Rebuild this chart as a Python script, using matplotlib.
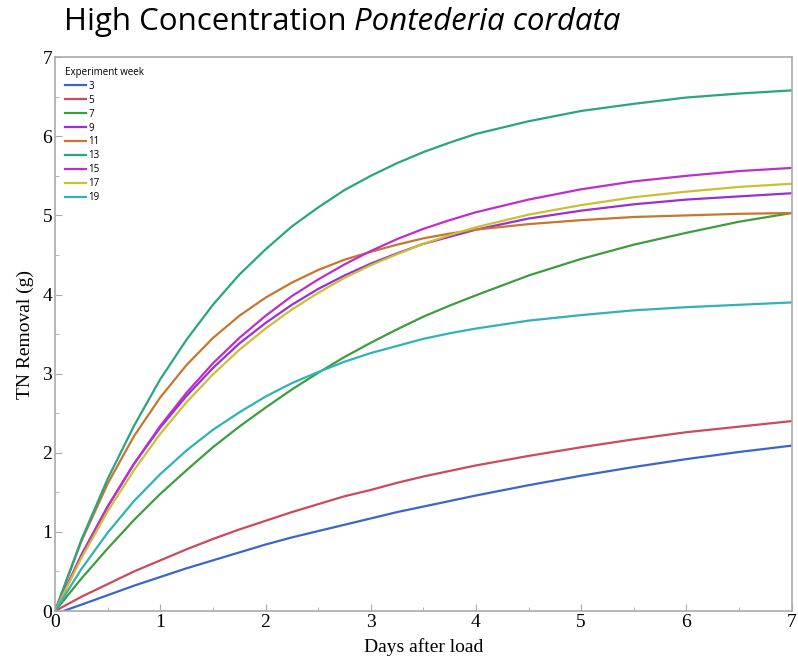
import numpy as np
import matplotlib
matplotlib.use("Agg")
import matplotlib.pyplot as plt
from matplotlib.ticker import MultipleLocator

# Days after load (read at these x positions)
days = [0, 0.25, 0.5, 0.75, 1, 1.25, 1.5, 1.75, 2, 2.25, 2.5, 2.75, 3, 3.25,
        3.5, 3.75, 4, 4.5, 5, 5.5, 6, 6.5, 7]
days_w3 = [0.08] + days[1:]

# TN removal (g) per experiment week
w3 = [0, 0.08, 0.20, 0.32, 0.43, 0.54, 0.64, 0.74, 0.84, 0.93, 1.01, 1.09, 1.17, 1.25,
      1.32, 1.39, 1.46, 1.59, 1.71, 1.82, 1.92, 2.01, 2.09]
w5 = [0, 0.18, 0.34, 0.50, 0.64, 0.78, 0.91, 1.03, 1.14, 1.25, 1.35, 1.45, 1.53, 1.62,
      1.70, 1.77, 1.84, 1.96, 2.07, 2.17, 2.26, 2.33, 2.40]
w7 = [0, 0.41, 0.79, 1.15, 1.48, 1.78, 2.07, 2.33, 2.57, 2.80, 3.01, 3.21, 3.39, 3.56,
      3.72, 3.86, 3.99, 4.24, 4.45, 4.63, 4.78, 4.92, 5.03]
w9 = [0, 0.71, 1.32, 1.86, 2.32, 2.72, 3.07, 3.38, 3.64, 3.87, 4.07, 4.24, 4.39, 4.52,
      4.64, 4.73, 4.82, 4.96, 5.06, 5.14, 5.20, 5.24, 5.28]
w11 = [0, 0.88, 1.61, 2.21, 2.70, 3.11, 3.45, 3.73, 3.96, 4.15, 4.31, 4.44, 4.54, 4.63,
       4.71, 4.77, 4.82, 4.89, 4.94, 4.98, 5.00, 5.02, 5.03]
w13 = [0, 0.90, 1.67, 2.34, 2.93, 3.43, 3.87, 4.25, 4.57, 4.86, 5.10, 5.32, 5.50, 5.66,
       5.80, 5.92, 6.03, 6.19, 6.32, 6.41, 6.49, 6.54, 6.58]
w15 = [0, 0.70, 1.32, 1.86, 2.34, 2.76, 3.13, 3.45, 3.73, 3.98, 4.19, 4.38, 4.55, 4.70,
       4.83, 4.94, 5.04, 5.20, 5.33, 5.43, 5.50, 5.56, 5.60]
w17 = [0, 0.67, 1.26, 1.78, 2.24, 2.64, 2.99, 3.30, 3.57, 3.81, 4.02, 4.21, 4.37, 4.51,
       4.64, 4.75, 4.85, 5.01, 5.13, 5.23, 5.30, 5.36, 5.40]
w19 = [0, 0.53, 0.99, 1.39, 1.73, 2.03, 2.29, 2.51, 2.71, 2.88, 3.02, 3.15, 3.26, 3.35,
       3.44, 3.51, 3.57, 3.67, 3.74, 3.80, 3.84, 3.87, 3.90]

weeks = ["3", "5", "7", "9", "11", "13", "15", "17", "19"]
series = [w3, w5, w7, w9, w11, w13, w15, w17, w19]
colors = ["#3b66c9", "#cc4a5a", "#3c9e3c", "#9a2fd6", "#c7762f",
          "#2aa583", "#be2fc9", "#c9c032", "#30b2b8"]

fig = plt.figure(figsize=(7.98, 6.57), dpi=100)
ax = fig.add_axes([0.069, 0.070, 0.923, 0.843])

for wk, vals, c in zip(weeks, series, colors):
    xs = days_w3 if wk == "3" else days
    ax.plot(xs, vals, color=c, linewidth=1.6, label=wk)

ax.set_xlim(0, 7)
ax.set_ylim(0, 7)
ax.xaxis.set_major_locator(MultipleLocator(1))
ax.yaxis.set_major_locator(MultipleLocator(1))
ax.xaxis.set_minor_locator(MultipleLocator(0.5))
ax.yaxis.set_minor_locator(MultipleLocator(0.5))
ax.tick_params(which="both", direction="in", color="#aaaaaa")
ax.tick_params(which="major", length=5, pad=2, labelsize=14)
ax.tick_params(which="minor", length=3)
for lab in ax.get_xticklabels() + ax.get_yticklabels():
    lab.set_family("Liberation Serif")
for sp in ax.spines.values():
    sp.set_color("#aaaaaa")
    sp.set_linewidth(1.2)

ax.set_xlabel("Days after load", family="Liberation Serif", fontsize=14, labelpad=5)
ax.set_ylabel("TN Removal (g)", family="Liberation Serif", fontsize=14, labelpad=6)

leg = ax.legend(title="Experiment week", loc="upper left", frameon=False,
                handlelength=2.2, handletextpad=0.2,
                labelspacing=0.3, borderaxespad=0.6,
                prop={"family": "Open Sans", "size": 7}, title_fontsize=7)
leg.get_title().set_family("Open Sans")
leg._legend_box.align = "left"

# title: plain part + italic species name
t1 = fig.text(0.080, 0.966, "High Concentration ", family="Open Sans",
              fontsize=22.5, va="center", ha="left")
fig.canvas.draw()
bb = t1.get_window_extent().transformed(fig.transFigure.inverted())
fig.text(bb.x1, 0.966, "Pontederia cordata", family="Open Sans", style="italic",
         fontsize=22.5, va="center", ha="left")

fig.savefig("out.png", dpi=100)
